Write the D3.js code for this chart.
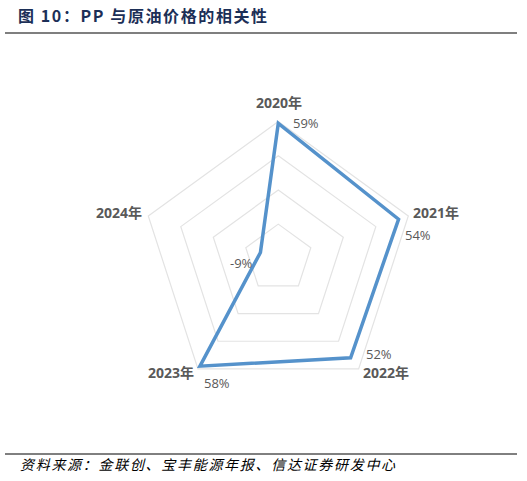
<!DOCTYPE html>
<html><head><meta charset="utf-8">
<script src="https://cdn.jsdelivr.net/npm/d3@7"></script>
<style>
html,body{margin:0;padding:0;background:#fff;}
svg{display:block;}
</style></head>
<body>
<script>
const categories = ["2020年","2021年","2022年","2023年","2024年"];
const values = [59, 54, 52, 58, -9];
const valueLabels = ["59%","54%","52%","58%","-9%"];
const ringTicks = [-20, 0, 20, 40, 60];

const W = 527, H = 481;
const svg = d3.select("body").append("svg").attr("width", W).attr("height", H);

// Title
svg.append("text").attr("x", 18).attr("y", 22)
  .attr("font-family", "'Noto Sans CJK SC', 'Liberation Sans', sans-serif")
  .attr("font-weight", "bold").attr("font-size", 16).attr("fill", "#1c2f57")
  .attr("letter-spacing", 1.6)
  .text("图 10：PP 与原油价格的相关性");
svg.append("line").attr("x1", 5).attr("x2", 517).attr("y1", 33).attr("y2", 33)
  .attr("stroke", "#7f7f7f").attr("stroke-width", 2);

// Radar
const cx = 278.3, cy = 258.3, R = 136.7;
const r = d3.scaleLinear().domain([ringTicks[0], ringTicks[ringTicks.length-1]]).range([0, R]);
const angle = d3.scalePoint().domain(categories).range([0, 2*Math.PI*(categories.length-1)/categories.length]);
const g = svg.append("g").attr("transform", `translate(${cx},${cy})`);
const pt = (cat, v) => { const a = angle(cat); return [r(v)*Math.sin(a), -r(v)*Math.cos(a)]; };

const lineGen = d3.line().curve(d3.curveLinearClosed);
ringTicks.slice(1).forEach(t => {
  g.append("path").attr("d", lineGen(categories.map(c => pt(c, t))))
    .attr("fill", "none").attr("stroke", "#e3e3e3").attr("stroke-width", 1.2);
});

g.append("path").attr("d", lineGen(categories.map((c,i) => pt(c, values[i]))))
  .attr("fill", "none").attr("stroke", "#5592cb").attr("stroke-width", 3.5)
  .attr("stroke-linejoin", "miter");

// Category labels
const catPos = [[279, 108, "middle"], [413, 218, "start"], [409, 378, "end"], [194, 378, "end"], [142, 218, "end"]];
categories.forEach((c, i) => {
  svg.append("text").attr("x", catPos[i][0]).attr("y", catPos[i][1])
    .attr("text-anchor", catPos[i][2])
    .attr("font-family", "'Open Sans', 'Noto Sans CJK SC', sans-serif")
    .attr("font-weight", "bold").attr("font-size", 14).attr("fill", "#595959")
    .text(c);
});
// Value labels
const valPos = [[293, 128], [405, 240], [366, 359], [204, 388], [230, 268]];
valueLabels.forEach((v, i) => {
  svg.append("text").attr("x", valPos[i][0]).attr("y", valPos[i][1])
    .attr("font-family", "'Open Sans', sans-serif")
    .attr("font-size", 13).attr("fill", "#595959")
    .text(v);
});

// Footer
svg.append("line").attr("x1", 5).attr("x2", 517).attr("y1", 454).attr("y2", 454)
  .attr("stroke", "#000").attr("stroke-width", 1);
svg.append("text").attr("x", 20).attr("y", 470)
  .attr("font-family", "'Noto Sans CJK SC', sans-serif")
  .attr("font-style", "italic").attr("font-size", 14).attr("fill", "#000")
  .attr("letter-spacing", 1.7)
  .text("资料来源：金联创、宝丰能源年报、信达证券研发中心");
</script>
</body></html>
